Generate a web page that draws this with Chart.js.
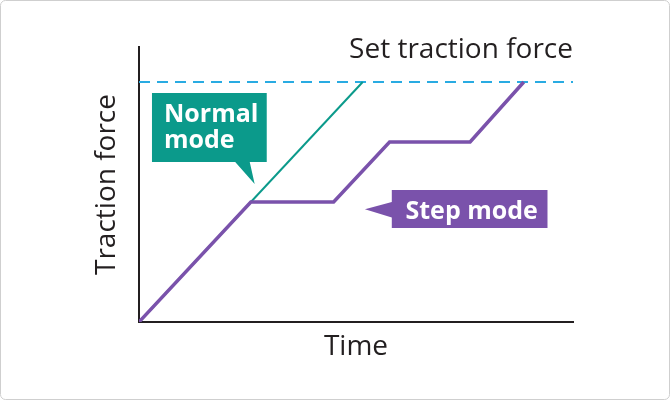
<!DOCTYPE html>
<html><head><meta charset="utf-8">
<script src="https://cdn.jsdelivr.net/npm/chart.js@4/dist/chart.umd.min.js"></script>
<style>html,body{margin:0;padding:0;background:#fff;}canvas{display:block}</style>
</head><body>
<canvas id="c" width="670" height="400"></canvas>
<script>
// ---- data (force as % of set traction force, time in arbitrary units) ----
const timeMax = 19.4;
const forceMax = 114.6;
const setForce = 100;
const setLineTime = [0, 19.4];
const setLineForce = [100, 100];
const normalTime = [0, 10];
const normalForce = [0, 100];
const stepTime = [0, 5.0, 8.7, 11.2, 14.8, 17.2];
const stepForce = [0, 50, 50, 75, 75, 100];
const xTitle = 'Time';
const yTitle = 'Traction force';
const setLabel = 'Set traction force';
const normalLabel = ['Normal', 'mode'];
const stepLabel = 'Step mode';

const TEAL = '#0b9a8b';
const PURPLE = '#7a52ab';
const BLUE = '#29abe2';
const INK = '#231f20';

const toPts = (xs, ys) => xs.map((x, i) => ({x, y: ys[i]}));

const decor = {
  id: 'decor',
  beforeDraw(chart) {
    const ctx = chart.ctx;
    ctx.save();
    ctx.strokeStyle = '#cfcfcf';
    ctx.lineWidth = 1;
    ctx.beginPath();
    ctx.roundRect(0.5, 0.5, chart.width - 1, chart.height - 1, 5);
    ctx.stroke();
    ctx.restore();
  },
  afterDraw(chart) {
    const ctx = chart.ctx;
    const xs = chart.scales.x, ys = chart.scales.y;
    const X = v => xs.getPixelForValue(v), Y = v => ys.getPixelForValue(v);
    ctx.save();
    // set traction force label
    ctx.fillStyle = INK;
    ctx.font = '28px "Open Sans"';
    ctx.textAlign = 'right';
    ctx.textBaseline = 'alphabetic';
    ctx.fillText(setLabel, chart.chartArea.right, Y(setForce) - 24);

    // Normal mode callout
    const nl = X(0.58), nr = X(5.71), nt = Y(95.4), nb = Y(66.7);
    ctx.fillStyle = TEAL;
    ctx.beginPath();
    ctx.moveTo(nl, nt); ctx.lineTo(nr, nt); ctx.lineTo(nr, nb);
    ctx.lineTo(X(4.95), nb); ctx.lineTo(X(5.17), Y(57.5)); ctx.lineTo(X(4.3), nb);
    ctx.lineTo(nl, nb); ctx.closePath(); ctx.fill();
    ctx.fillStyle = '#fff';
    ctx.font = 'bold 25px "Open Sans"';
    ctx.textAlign = 'left';
    ctx.fillText(normalLabel[0], nl + 12, nt + 29);
    ctx.fillText(normalLabel[1], nl + 12, nt + 55);

    // Step mode callout
    const sl = X(11.3), sr = X(18.26), st = Y(55), sb = Y(39.2);
    ctx.fillStyle = PURPLE;
    ctx.beginPath();
    ctx.moveTo(sl, st); ctx.lineTo(sr, st); ctx.lineTo(sr, sb); ctx.lineTo(sl, sb);
    ctx.lineTo(sl, Y(43.5)); ctx.lineTo(X(10.1), Y(47)); ctx.lineTo(sl, Y(50));
    ctx.closePath(); ctx.fill();
    ctx.fillStyle = '#fff';
    ctx.font = 'bold 25px "Open Sans"';
    ctx.textAlign = 'center';
    ctx.fillText(stepLabel, (sl + sr) / 2 + 2, sb - 9);
    ctx.restore();
  }
};

new Chart(document.getElementById('c'), {
  type: 'line',
  data: {
    datasets: [
      {label: 'Step mode', data: toPts(stepTime, stepForce), borderColor: PURPLE, borderWidth: 3.5, pointRadius: 0, tension: 0, borderJoinStyle: 'miter'},
      {label: 'Normal mode', data: toPts(normalTime, normalForce), borderColor: TEAL, borderWidth: 2, pointRadius: 0, tension: 0},
      {label: 'Set traction force', data: toPts(setLineTime, setLineForce), borderColor: BLUE, borderWidth: 2, borderDash: [11, 7], pointRadius: 0, tension: 0}
    ]
  },
  options: {
    responsive: false,
    animation: false,
    events: [],
    layout: {padding: {left: 80, right: 97, top: 47, bottom: 30}},
    plugins: {legend: {display: false}, tooltip: {enabled: false}},
    scales: {
      x: {
        type: 'linear', min: 0, max: timeMax,
        grid: {display: false, drawTicks: false},
        border: {display: true, color: INK, width: 2},
        ticks: {display: false},
        title: {display: true, text: xTitle, color: INK, font: {family: 'Open Sans', size: 28}, padding: {top: 0, bottom: 6}},
        afterFit(s) { s.height = 48; }
      },
      y: {
        type: 'linear', min: 0, max: forceMax,
        grid: {display: false, drawTicks: false},
        border: {display: true, color: INK, width: 2},
        ticks: {display: false},
        title: {display: true, text: yTitle, color: INK, font: {family: 'Open Sans', size: 28}, padding: {top: 10, bottom: 0}},
        afterFit(s) { s.width = 59; }
      }
    }
  },
  plugins: [decor]
});
</script>
</body></html>
